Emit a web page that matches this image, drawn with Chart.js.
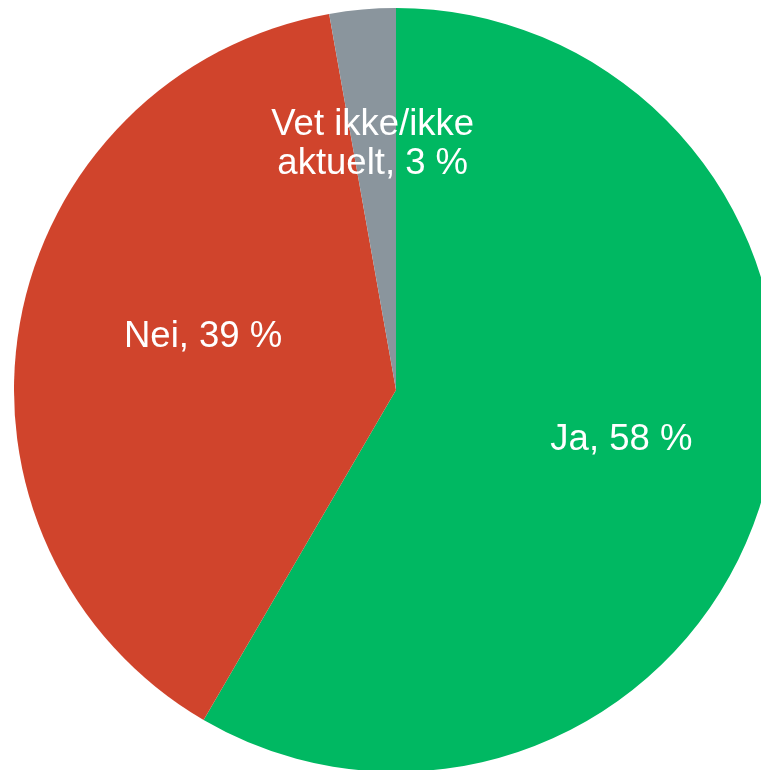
<!DOCTYPE html>
<html>
<head>
<meta charset="utf-8">
<script src="https://cdn.jsdelivr.net/npm/chart.js@4/dist/chart.umd.min.js"></script>
<style>
  html, body { margin: 0; padding: 0; background: #fff; overflow: hidden; }
  #wrap { width: 761px; height: 770px; overflow: hidden; position: relative; }
  canvas { position: absolute; left: 0; top: 0; }
</style>
</head>
<body>
<div id="wrap"><canvas id="myChart" width="792" height="780"></canvas></div>
<script>
const categories = ['Ja', 'Nei', 'Vet ikke/ikke aktuelt'];
const values = [58.4, 38.8, 2.8];
const labelLines = [['Ja, 58 %'], ['Nei, 39 %'], ['Vet ikke/ikke', 'aktuelt, 3 %']];
const colors = ['#00B862', '#D0442C', '#8A959D'];

// label anchor as fraction of radius, relative to pie centre
const labelPos = [[0.59, 0.13], [-0.505, -0.14], [-0.061, -0.642]];

const sliceLabels = {
  id: 'sliceLabels',
  afterDatasetsDraw(chart) {
    const ctx = chart.ctx;
    const meta = chart.getDatasetMeta(0);
    ctx.save();
    ctx.fillStyle = '#ffffff';
    ctx.font = '36.5px "Liberation Sans", Arial, sans-serif';
    ctx.textAlign = 'center';
    ctx.textBaseline = 'middle';
    const lineH = 39;
    meta.data.forEach((arc, i) => {
      const r = arc.outerRadius;
      const cx = arc.x + labelPos[i][0] * r;
      const cy = arc.y + labelPos[i][1] * r;
      const lines = labelLines[i];
      lines.forEach((t, j) => {
        ctx.fillText(t, cx, cy + (j - (lines.length - 1) / 2) * lineH);
      });
    });
    ctx.restore();
  }
};

const ctx = document.getElementById('myChart').getContext('2d');
const myChart = new Chart(ctx, {
  type: 'pie',
  data: {
    labels: categories,
    datasets: [{
      data: values,
      backgroundColor: colors,
      borderWidth: 0,
    }],
  },
  options: {
    responsive: false,
    animation: false,
    layout: { padding: 8 },
    plugins: {
      legend: { display: false },
      tooltip: { enabled: false },
    },
  },
  plugins: [sliceLabels],
});
</script>
</body>
</html>
